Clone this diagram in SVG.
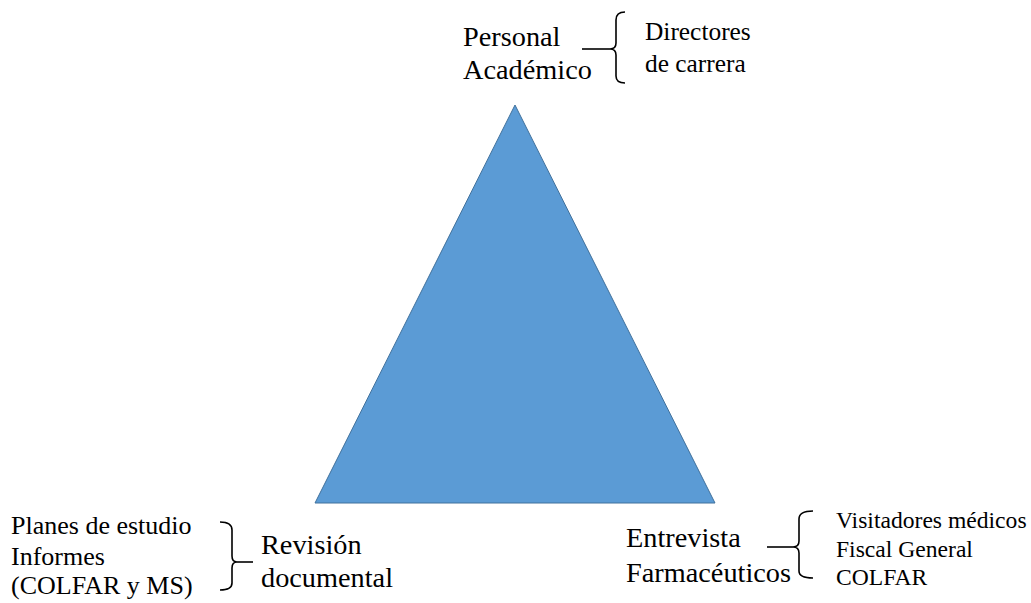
<svg xmlns="http://www.w3.org/2000/svg" width="1031" height="603" viewBox="0 0 1031 603">
<style>
text{font-family:'Liberation Serif','Times New Roman',serif;fill:#000;}
.big{font-size:28.3px;}
.s1{font-size:25.4px;}
.s2{font-size:26px;}
.s3{font-size:23.6px;}
.br{fill:none;stroke:#000;stroke-width:1.6;}
</style>
<rect width="1031" height="603" fill="#fff"/>
<g id="triangle">
<polygon points="515,105 315,503 715,503" fill="#5B9BD5" stroke="#41719C" stroke-width="1"/>
</g>
<g id="top">
<text class="big" x="463" y="46">Personal</text>
<text class="big" x="463" y="79">Académico</text>
<text class="s1" x="645" y="40">Directores</text>
<text class="s1" x="645" y="72">de carrera</text>
</g>
<g id="left">
<text class="s2" x="11" y="534">Planes de estudio</text>
<text class="s2" x="11" y="565">Informes</text>
<text class="s2" x="11" y="594">(COLFAR y MS)</text>
<text class="big" x="261" y="554">Revisión</text>
<text class="big" x="261" y="587">documental</text>
</g>
<g id="right">
<text class="big" x="626" y="547">Entrevista</text>
<text class="big" x="626" y="582">Farmacéuticos</text>
<text class="s3" x="836" y="528">Visitadores médicos</text>
<text class="s3" x="836" y="557">Fiscal General</text>
<text class="s3" x="836" y="585">COLFAR</text>
</g>
<g id="connectors">
<path class="br" d="M582,49 L610,49"/>
<path class="br" d="M625,12 Q616,12 616,20 L616,43 Q616,49 610,49 Q616,49 616,55 L616,76 Q616,83 625,83"/>
<path class="br" d="M253,562 L237,562"/>
<path class="br" d="M220,522 Q232,522 232,530 L232,556 Q232,562 237,562 Q232,562 232,568 L232,583 Q232,590 220,590"/>
<path class="br" d="M767,547 L793,547"/>
<path class="br" d="M813,511 Q799,511 799,519 L799,541 Q799,547 793,547 Q799,547 799,553 L799,571 Q799,578 813,578"/>
</g>
</svg>
